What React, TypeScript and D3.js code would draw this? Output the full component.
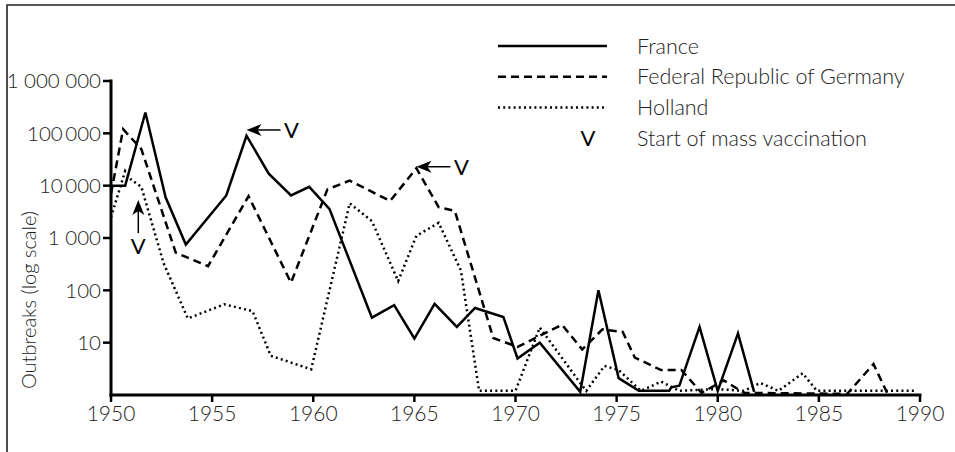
import React from 'react'
import * as d3 from 'd3'

const franceYears = [1950.0, 1950.7, 1951.7, 1952.7, 1953.7, 1955.7, 1956.7, 1957.8, 1958.9, 1959.8, 1960.8, 1962.9, 1964.0, 1965.0, 1966.0, 1967.1, 1968.0, 1969.4, 1970.1, 1971.2, 1973.2, 1974.1, 1975.1, 1976.1, 1977.6, 1977.7, 1978.1, 1979.1, 1980.0, 1981.0, 1981.8]
const franceValues = [10000, 10000, 250000, 6000, 750, 6500, 90000, 17000, 6500, 9500, 3600, 30, 52, 12, 55, 20, 46, 31, 5, 10, 1.15, 100, 2.1, 1.2, 1.2, 1.4, 1.5, 20, 1.2, 15, 1.15]

const germanyYears = [1950.0, 1950.6, 1951.5, 1953.2, 1954.8, 1956.8, 1958.9, 1960.7, 1961.8, 1963.8, 1965.1, 1966.2, 1967.0, 1968.9, 1970.1, 1972.3, 1973.3, 1974.3, 1975.3, 1975.9, 1977.2, 1978.2, 1979.2, 1980.3, 1981.3, 1986.4, 1987.7, 1988.4]
const germanyValues = [7000, 120000, 50000, 525, 290, 6300, 140, 8500, 12500, 5100, 21500, 3900, 3300, 12.3, 8.3, 22, 7.4, 18, 16, 5.2, 3.0, 3.0, 1.1, 1.9, 1.1, 1.05, 3.9, 1.05]

const hollandYears = [1950.0, 1950.7, 1951.0, 1951.5, 1952.6, 1953.8, 1955.6, 1957.0, 1957.9, 1959.9, 1961.8, 1962.9, 1964.2, 1965.1, 1966.2, 1967.3, 1968.2, 1970.0, 1971.2, 1973.2, 1973.5, 1974.4, 1975.1, 1976.2, 1977.2, 1978.1, 1979.9, 1981.3, 1982.1, 1983.0, 1984.2, 1984.9, 1989.8]
const hollandValues = [2500, 19000, 13000, 9500, 330, 29, 54, 40, 5.6, 3.1, 4600, 2100, 150, 1100, 1950, 240, 1.2, 1.2, 19.5, 1.7, 1.2, 3.6, 3.0, 1.2, 1.8, 1.2, 1.3, 1.2, 1.7, 1.2, 2.6, 1.2, 1.2]

const xTicks = [1950, 1955, 1960, 1965, 1970, 1975, 1980, 1985, 1990]
const yTicks = [10, 100, 1000, 10000, 100000, 1000000]
const yTickLabels = ['10', '100', '1 000', '10\u2009000', '100\u2009000', '1 000 000']

const seriesNames = ['France', 'Federal Republic of Germany', 'Holland']
const vaccinationLabel = 'Start of mass vaccination'

// arrows mark the start of mass vaccination
const arrowYears = [1956.7, 1965.1, 1951.35]
const arrowValues = [116000, 23000, 5300]
const arrowDirs = ['left', 'left', 'up']

const App = () => {
  const width = 955
  const height = 452
  const x = d3.scaleLinear().domain([1950, 1990]).range([111, 920])
  const y = d3.scaleLog().domain([1, 1000000]).range([395, 81])

  const line = d3.line<[number, number]>()
    .x(d => x(d[0]))
    .y(d => y(d[1]))

  const series = [
    { name: seriesNames[0], pts: franceYears.map((yr, i) => [yr, franceValues[i]] as [number, number]), dash: null },
    { name: seriesNames[1], pts: germanyYears.map((yr, i) => [yr, germanyValues[i]] as [number, number]), dash: '8,5' },
    { name: seriesNames[2], pts: hollandYears.map((yr, i) => [yr, hollandValues[i]] as [number, number]), dash: '2,3.2' },
  ]

  const font = 'Lato, "Open Sans", sans-serif'
  const textColor = '#222'

  const arrowHead = (tx: number, ty: number, dir: string) => {
    // stealth-like notched head
    if (dir === 'left') {
      return `M${tx},${ty} L${tx + 15},${ty - 6} L${tx + 11},${ty} L${tx + 15},${ty + 6} Z`
    }
    return `M${tx},${ty} L${tx - 6},${ty + 15} L${tx},${ty + 11} L${tx + 6},${ty + 15} Z`
  }

  return (
    <svg width={width} height={height} style={{ position: 'absolute', left: 0, top: 0, background: '#fff' }}>
      {/* partial frame */}
      <path d="M7,452 V5 H955" fill="none" stroke="#222" strokeWidth={1.6} />

      {/* series */}
      {series.map(s => (
        <path key={s.name} d={line(s.pts) || ''} fill="none" stroke="#000"
          strokeWidth={2.5} strokeLinejoin="miter"
          strokeDasharray={s.dash || undefined} />
      ))}

      {/* axes */}
      <g>
        <line x1={x(1950)} x2={x(1950)} y1={y(1000000) - 1.5} y2={y(1) + 1.5} stroke="#000" strokeWidth={3} />
        <line x1={x(1950) - 1.5} x2={x(1990) + 1.5} y1={y(1)} y2={y(1)} stroke="#000" strokeWidth={3} />
        {yTicks.map((t, i) => (
          <g key={t}>
            <line x1={x(1950) - 8} x2={x(1950)} y1={y(t)} y2={y(t)} stroke="#000" strokeWidth={2.5} />
            <text x={x(1950) - 10} y={y(t)} dy="0.36em" textAnchor="end" fontFamily={font}
              fontSize={20.5} fontWeight={300} fill={textColor}>{yTickLabels[i]}</text>
          </g>
        ))}
        {xTicks.map(t => (
          <g key={t}>
            <line x1={x(t)} x2={x(t)} y1={y(1)} y2={y(1) + 7} stroke="#000" strokeWidth={2.5} />
            <text x={x(t)} y={421} textAnchor="middle" fontFamily={font}
              fontSize={21} fontWeight={300} fill={textColor}>{t}</text>
          </g>
        ))}
        <text transform={`translate(29,${(y(1) + 205) / 2}) rotate(-90)`} textAnchor="middle"
          dy="0.35em" fontFamily={font} fontSize={20} fontWeight={300} fill={textColor}>Outbreaks (log scale)</text>
      </g>

      {/* vaccination arrows */}
      {arrowYears.map((yr, i) => {
        const tx = x(yr)
        const ty = y(arrowValues[i])
        if (arrowDirs[i] === 'left') {
          return (
            <g key={i}>
              <line x1={tx + 10} x2={tx + 34} y1={ty} y2={ty} stroke="#000" strokeWidth={1.5} />
              <path d={arrowHead(tx, ty, 'left')} fill="#000" />
              <text x={tx + 45} y={ty} dy="0.36em" textAnchor="middle" fontFamily={font}
                fontSize={22} fill="#000">V</text>
            </g>
          )
        }
        return (
          <g key={i}>
            <line x1={tx} x2={tx} y1={ty + 10} y2={ty + 33} stroke="#000" strokeWidth={1.5} />
            <path d={arrowHead(tx, ty, 'up')} fill="#000" />
            <text x={tx} y={ty + 46} dy="0.36em" textAnchor="middle" fontFamily={font}
              fontSize={22} fill="#000">V</text>
          </g>
        )
      })}

      {/* legend */}
      <g>
        {series.map((s, i) => (
          <g key={s.name} transform={`translate(0,${46 + i * 30.7})`}>
            <line x1={498} x2={607} y1={0} y2={0} stroke="#000" strokeWidth={2.5}
              strokeDasharray={s.dash || undefined} />
            <text x={637} y={0} dy="0.36em" fontFamily={font} fontSize={21.5} fontWeight={300} fill={textColor}>{s.name}</text>
          </g>
        ))}
        <g transform="translate(0,138)">
          <text x={588} y={0} dy="0.36em" textAnchor="middle" fontFamily={font} fontSize={22} fill="#000">V</text>
          <text x={637} y={0} dy="0.36em" fontFamily={font} fontSize={21.5} fontWeight={300} fill={textColor}>{vaccinationLabel}</text>
        </g>
      </g>
    </svg>
  )
}

export default App
